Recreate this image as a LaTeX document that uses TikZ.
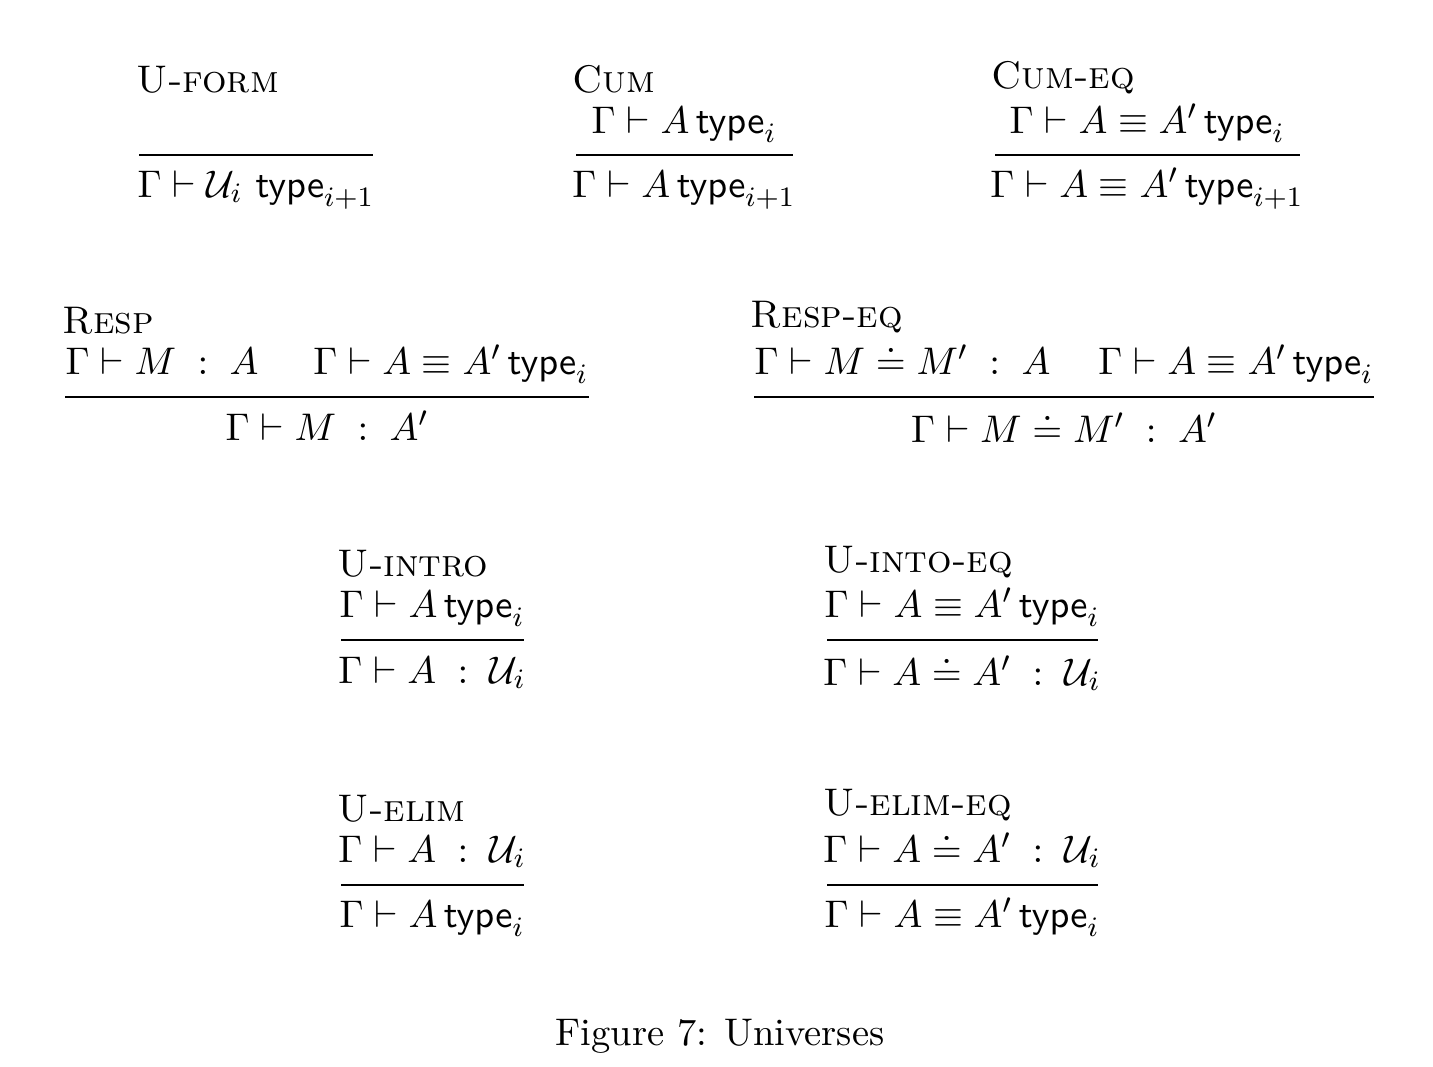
\documentclass[tikz,border=0pt,11pt]{standalone}
\usepackage{amsmath,amssymb}
\newcommand{\typ}{\mathsf{type}}
\tikzset{
  rulename/.style={anchor=base west, inner sep=0pt, font=\scshape},
  judg/.style={anchor=base, inner sep=0pt},
  bar/.style={line width=0.8pt},
}
\begin{document}
\begin{tikzpicture}[x=0.01cm, y=-0.01cm]
   \useasboundingbox (0,0) rectangle (1433,1066);
   % U-form
   \node (uformN) [rulename] at (136,92) {U-form};
   \coordinate (uformL) at (139,155);
   \coordinate (uformR) at (373,155);
   \node (uformC) [judg] at (256,197) {$\Gamma \vdash \mathcal{U}_i\ \typ_{i+1}$};
   \draw[bar] (uformL) -- (uformR);
   % Cum
   \node (cumN) [rulename] at (572,92) {Cum};
   \coordinate (cumL) at (576,155);
   \coordinate (cumR) at (793,155);
   \node (cumP) [judg] at (684,133) {$\Gamma \vdash A\, \typ_i$};
   \node (cumC) [judg] at (684,197) {$\Gamma \vdash A\, \typ_{i+1}$};
   \draw[bar] (cumL) -- (cumR);
   % Cum-eq
   \node (cumeqN) [rulename] at (991,88) {Cum-eq};
   \coordinate (cumeqL) at (995,155);
   \coordinate (cumeqR) at (1300,155);
   \node (cumeqP) [judg] at (1147,133) {$\Gamma \vdash A \equiv A'\, \typ_i$};
   \node (cumeqC) [judg] at (1147,197) {$\Gamma \vdash A \equiv A'\, \typ_{i+1}$};
   \draw[bar] (cumeqL) -- (cumeqR);
   % Resp
   \node (respN) [rulename] at (62,333) {Resp};
   \coordinate (respL) at (65,397);
   \coordinate (respR) at (589,397);
   \node (respP1) [judg, anchor=base west] at (65,374) {$\Gamma \vdash M \;:\; A$};
   \node (respP2) [judg, anchor=base east] at (589,374) {$\Gamma \vdash A \equiv A'\, \typ_i$};
   \node (respC) [judg] at (327,440) {$\Gamma \vdash M \;:\; A'$};
   \draw[bar] (respL) -- (respR);
   % Resp-eq
   \node (respeqN) [rulename] at (750,327) {Resp-eq};
   \coordinate (respeqL) at (754,397);
   \coordinate (respeqR) at (1374,397);
   \node (respeqP1) [judg, anchor=base west] at (754,374) {$\Gamma \vdash M \doteq M' \;:\; A$};
   \node (respeqP2) [judg, anchor=base east] at (1374,374) {$\Gamma \vdash A \equiv A'\, \typ_i$};
   \node (respeqC) [judg] at (1064,442) {$\Gamma \vdash M \doteq M' \;:\; A'$};
   \draw[bar] (respeqL) -- (respeqR);
   % U-intro
   \node (uintroN) [rulename] at (337,576) {U-intro};
   \coordinate (uintroL) at (341,640);
   \coordinate (uintroR) at (524,640);
   \node (uintroP) [judg] at (432,617) {$\Gamma \vdash A\, \typ_i$};
   \node (uintroC) [judg] at (432,683) {$\Gamma \vdash A \;:\; \mathcal{U}_i$};
   \draw[bar] (uintroL) -- (uintroR);
   % U-into-eq
   \node (uintoeqN) [rulename] at (823,572) {U-into-eq};
   \coordinate (uintoeqL) at (827,640);
   \coordinate (uintoeqR) at (1098,640);
   \node (uintoeqP) [judg] at (962,617) {$\Gamma \vdash A \equiv A'\, \typ_i$};
   \node (uintoeqC) [judg] at (962,685) {$\Gamma \vdash A \doteq A' \;:\; \mathcal{U}_i$};
   \draw[bar] (uintoeqL) -- (uintoeqR);
   % U-elim
   \node (uelimN) [rulename] at (337,821) {U-elim};
   \coordinate (uelimL) at (341,885);
   \coordinate (uelimR) at (524,885);
   \node (uelimP) [judg] at (432,862) {$\Gamma \vdash A \;:\; \mathcal{U}_i$};
   \node (uelimC) [judg] at (432,927) {$\Gamma \vdash A\, \typ_i$};
   \draw[bar] (uelimL) -- (uelimR);
   % U-elim-eq
   \node (uelimeqN) [rulename] at (823,815) {U-elim-eq};
   \coordinate (uelimeqL) at (827,885);
   \coordinate (uelimeqR) at (1098,885);
   \node (uelimeqP) [judg] at (962,862) {$\Gamma \vdash A \doteq A' \;:\; \mathcal{U}_i$};
   \node (uelimeqC) [judg] at (962,927) {$\Gamma \vdash A \equiv A'\, \typ_i$};
   \draw[bar] (uelimeqL) -- (uelimeqR);
   % caption
   \node (cap) [judg] at (720,1045) {Figure 7: Universes};
\end{tikzpicture}
\end{document}
